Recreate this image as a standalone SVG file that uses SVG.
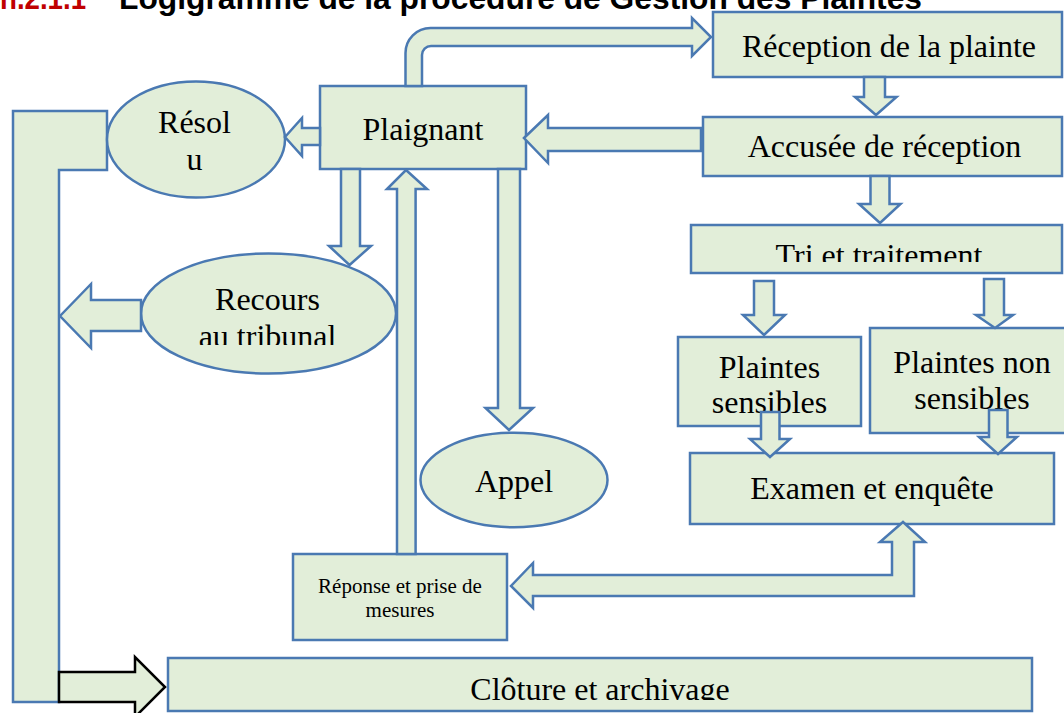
<svg xmlns="http://www.w3.org/2000/svg" width="1064" height="713" viewBox="0 0 1064 713">
<style>
.n{fill:#e2eed9;stroke:#4a79b2;stroke-width:2.5}
.c{fill:#e2eed9;stroke:#4a79b2;stroke-width:2.5;stroke-linejoin:miter}
.k{fill:#e2eed9;stroke:#000;stroke-width:2.5}
.t{font-family:"Liberation Serif","Times New Roman",serif;font-size:32px;fill:#000;text-anchor:middle}
.s{font-family:"Liberation Serif","Times New Roman",serif;font-size:21px;fill:#000;text-anchor:middle}
.h{font-family:"Liberation Sans",Arial,sans-serif;font-size:31px;font-weight:bold}
</style>
<defs>
<clipPath id="clipRecours"><rect x="140" y="250" width="260" height="95"/></clipPath>
<clipPath id="clipTri"><rect x="690" y="224" width="374" height="38"/></clipPath>
<clipPath id="clipCloture"><rect x="168" y="657" width="866" height="43"/></clipPath>
</defs>
<rect width="1064" height="713" fill="#fff"/>
<g id="title">
<text class="h" x="0" y="8.5" fill="#c00000" textLength="86" lengthAdjust="spacingAndGlyphs">n.2.1.1</text>
<text class="h" x="119" y="8.5" fill="#000" textLength="803" lengthAdjust="spacingAndGlyphs">Logigramme de la procédure de Gestion des Plaintes</text>
</g>
<g id="connectors-back">
<polygon class="c" points="13,111 107,111 107,170 59,170 59,702 13,702"/>
</g>
<g id="node-reception">
<rect class="n" x="713" y="12" width="349" height="65"/>
<text class="t" x="889" y="57">Réception de la plainte</text>
</g>
<g id="node-accusee">
<rect class="n" x="703" y="117" width="359" height="59"/>
<text class="t" x="884.5" y="157">Accusée de réception</text>
</g>
<g id="node-tri">
<rect class="n" x="691" y="225" width="371" height="48"/>
<text class="t" x="879" y="266" clip-path="url(#clipTri)">Tri et traitement</text>
</g>
<g id="node-sensibles">
<rect class="n" x="678" y="337" width="183" height="89"/>
<text class="t" x="769.5" y="378">Plaintes</text>
<text class="t" x="769.5" y="413">sensibles</text>
</g>
<g id="node-non-sensibles">
<rect class="n" x="870" y="328" width="198" height="105"/>
<text class="t" x="972" y="373">Plaintes non</text>
<text class="t" x="972" y="409">sensibles</text>
</g>
<g id="node-examen">
<rect class="n" x="690" y="453" width="364" height="71"/>
<text class="t" x="872" y="499">Examen et enquête</text>
</g>
<g id="node-plaignant">
<rect class="n" x="320" y="86" width="206" height="83"/>
<text class="t" x="423" y="140">Plaignant</text>
</g>
<g id="node-resolu">
<ellipse class="n" cx="196" cy="139.5" rx="89" ry="58"/>
<text class="t" x="194.5" y="133">Résol</text>
<text class="t" x="194.5" y="169.5">u</text>
</g>
<g id="node-recours">
<ellipse class="n" cx="268.5" cy="313.5" rx="127.5" ry="60"/>
<text class="t" x="267.5" y="310">Recours</text>
<text class="t" x="267.5" y="346.6" clip-path="url(#clipRecours)">au tribunal</text>
</g>
<g id="node-appel">
<ellipse class="n" cx="514" cy="480" rx="93.5" ry="47.3"/>
<text class="t" x="514" y="492">Appel</text>
</g>
<g id="node-reponse">
<rect class="n" x="293" y="554" width="214" height="86"/>
<text class="s" x="400" y="593">Réponse et prise de</text>
<text class="s" x="400" y="617">mesures</text>
</g>
<g id="node-cloture">
<rect class="n" x="168" y="658" width="864" height="53"/>
<text class="t" x="600" y="699.5" clip-path="url(#clipCloture)">Clôture et archivage</text>
</g>
<g id="connectors">
<path class="c" d="M405.5,86 L405.5,53 A25,25 0 0 1 430.5,28 L692,28 L692,18 L711,37 L692,56 L692,46 L431,46 A9,9 0 0 0 422,55 L422,86 Z"/>
<polygon class="c" points="864,77 885,77 885,97 896.5,97 876,115 855,97 864,97"/>
<polygon class="c" points="524,138 548,115 548,128 701,128 701,151 548,151 548,163"/>
<polygon class="c" points="870.5,176 889.5,176 889.5,204 900.5,204 880,223 859,204 870.5,204"/>
<polygon class="c" points="754,281 774,281 774,315 785,315 764,335 743,315 754,315"/>
<polygon class="c" points="984,279 1004,279 1004,315 1013,315 995,328 976,315 984,315"/>
<polygon class="c" points="761,412 779.5,412 779.5,439 790,439 770,457 750,439 761,439"/>
<polygon class="c" points="989,410 1007.5,410 1007.5,437 1017,437 998,454 979,437 989,437"/>
<polygon class="c" points="903,522 925,542 914,542 914,596 533,596 533,608 511,586 533,563 533,575 892,575 892,542 880,542"/>
<polygon class="c" points="285,137 302,118 302,128 320,128 320,145 302,145 302,156"/>
<polygon class="c" points="341,169 360,169 360,246 371,246 349.5,265 329,246 341,246"/>
<polygon class="c" points="406,170 427,189 415.6,189 415.6,554 397,554 397,189 387,189"/>
<polygon class="c" points="498,169 520,169 520,408 533,408 509,430 485.5,408 498,408"/>
<polygon class="c" points="60,316 91,284 91,300 141,300 141,331 91,331 91,348"/>
<polygon class="k" points="59,672 135,672 135,657 165,687 135,717 135,702 59,702"/>
</g>
</svg>
